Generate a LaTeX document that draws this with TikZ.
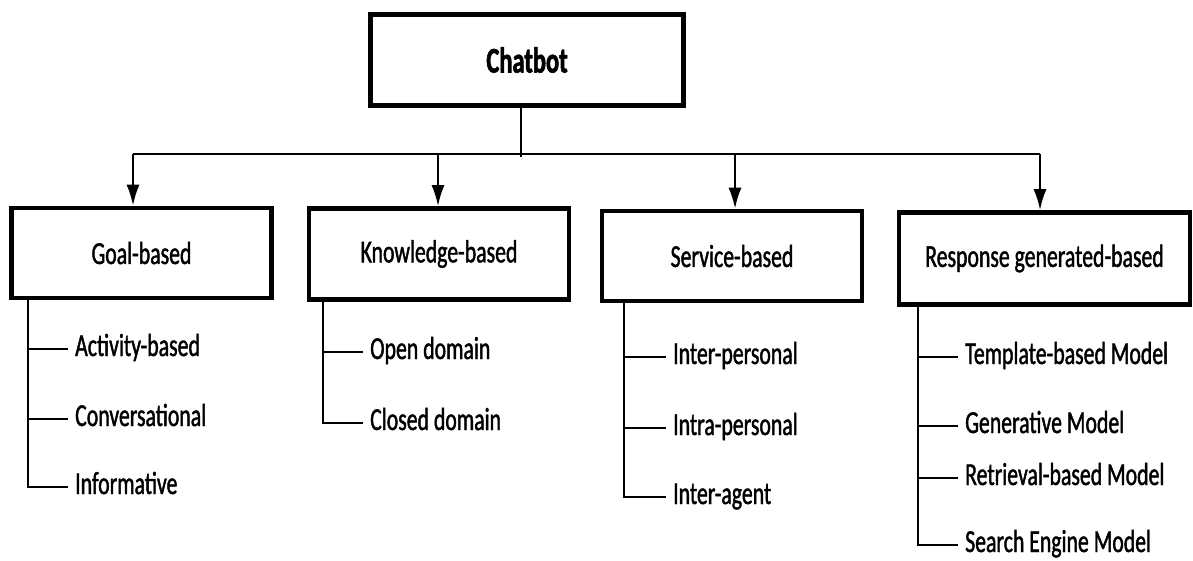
\documentclass[tikz,border=0pt]{standalone}
\usepackage{fontspec}
\setmainfont{Carlito}[FakeStretch=0.68, UprightFeatures={FakeBold=1.3}, BoldFeatures={FakeBold=1.8}]
\usetikzlibrary{arrows.meta}
\begin{document}
\begin{tikzpicture}[x=1pt,y=-1pt,
  boxnode/.style={draw, line width=4.5pt, rectangle, inner sep=0pt, font=\fontsize{32}{36}\selectfont},
  conn/.style={line width=2.4pt},
  arr/.style={conn, -{Latex[length=21pt,width=13pt]}},
  leaf/.style={anchor=west, inner sep=0pt, text height=14pt, text depth=0pt, font=\fontsize{32}{36}\selectfont}]
\useasboundingbox (0,0) rectangle (1193,561);

% boxes
\node[boxnode, minimum width=313pt, minimum height=91pt, font=\fontsize{36}{40}\selectfont\bfseries] (chat) at (527,60) {Chatbot};
\node[boxnode, minimum width=260pt, minimum height=90pt] (goal) at (141.5,253) {Goal-based};
\node[boxnode, minimum width=260pt, minimum height=91pt] (know) at (439,254) {Knowledge-based};
\node[boxnode, minimum width=260pt, minimum height=90pt] (serv) at (732,256) {Service-based};
\node[boxnode, minimum width=291pt, minimum height=92pt] (resp) at (1044.5,258.5) {Response generated-based};

% bus
\coordinate (busL) at (133,154);
\coordinate (b2) at (438,154);
\coordinate (b3) at (735,154);
\coordinate (busR) at (1040,154);
\coordinate (j) at (521,154);
\draw[conn] (busL) -- (busR);
\draw[conn] (j |- chat.south) -- ([yshift=-3pt]j);
\draw[arr] (busL) -- (busL |- goal.north);
\draw[arr] (b2) -- (b2 |- know.north);
\draw[arr] (b3) -- (b3 |- serv.north);
\draw[arr] (busR) -- (busR |- resp.north);

% leaves
\node[leaf] (g1) at (75,349) {Activity-based};
\node[leaf] (g2) at (75,419) {Conversational};
\node[leaf] (g3) at (75,487) {Informative};
\node[leaf] (k1) at (370,352) {Open domain};
\node[leaf] (k2) at (370,423) {Closed domain};
\node[leaf] (s1) at (673,357) {Inter-personal};
\node[leaf] (s2) at (673,428) {Intra-personal};
\node[leaf] (s3) at (673,497) {Inter-agent};
\node[leaf] (r1) at (965,357) {Template-based Model};
\node[leaf] (r2) at (965,426) {Generative Model};
\node[leaf] (r3) at (965,478) {Retrieval-based Model};
\node[leaf] (r4) at (965,545) {Search Engine Model};

% trunks
\coordinate (gt) at ([xshift=19pt]goal.south west);
\draw[conn] (gt) -- (gt |- g3.west) -- ([xshift=-7pt]g3.west);
\draw[conn] (gt |- g1.west) -- ([xshift=-7pt]g1.west);
\draw[conn] (gt |- g2.west) -- ([xshift=-7pt]g2.west);

\coordinate (kt) at ([xshift=16pt]know.south west);
\draw[conn] (kt) -- (kt |- k2.west) -- ([xshift=-7pt]k2.west);
\draw[conn] (kt |- k1.west) -- ([xshift=-7pt]k1.west);

\coordinate (st) at ([xshift=24pt]serv.south west);
\draw[conn] (st) -- (st |- s3.west) -- ([xshift=-7pt]s3.west);
\draw[conn] (st |- s1.west) -- ([xshift=-7pt]s1.west);
\draw[conn] (st |- s2.west) -- ([xshift=-7pt]s2.west);

\coordinate (rt) at ([xshift=21pt]resp.south west);
\draw[conn] (rt) -- (rt |- r4.west) -- ([xshift=-7pt]r4.west);
\draw[conn] (rt |- r1.west) -- ([xshift=-7pt]r1.west);
\draw[conn] (rt |- r2.west) -- ([xshift=-7pt]r2.west);
\draw[conn] (rt |- r3.west) -- ([xshift=-7pt]r3.west);
\end{tikzpicture}
\end{document}
